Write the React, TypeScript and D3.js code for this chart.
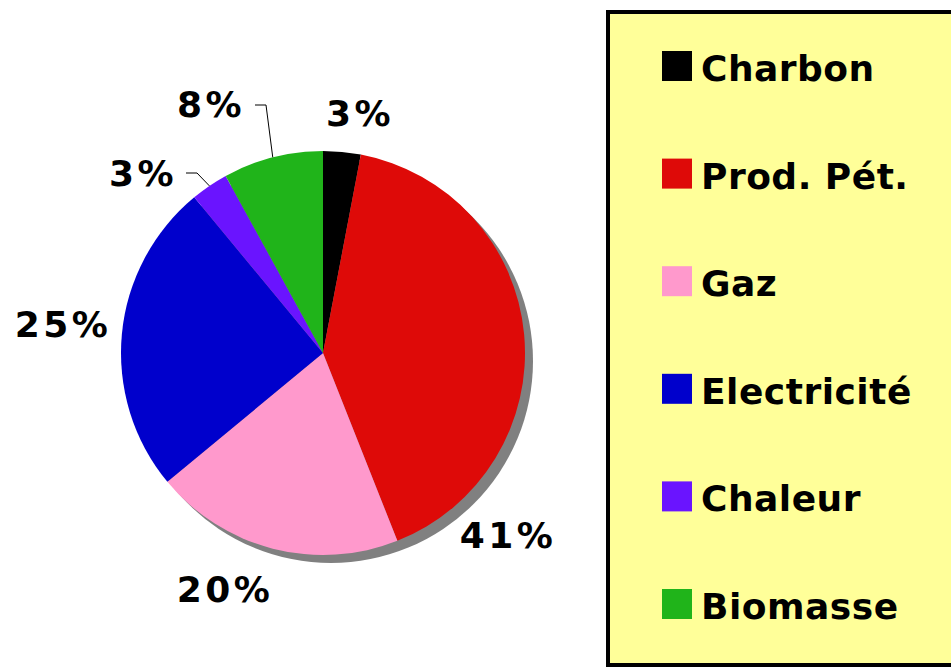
import React from "react";
import * as d3 from "d3";

const categories = ["Charbon", "Prod. Pét.", "Gaz", "Electricité", "Chaleur", "Biomasse"];
const values = [3, 41, 20, 25, 3, 8];
const colors = ["#000000", "#DE0A08", "#FF99CC", "#0000CC", "#6A14FF", "#20B41A"];
const labels = ["3%", "41%", "20%", "25%", "3%", "8%"];

const W = 951, H = 667;
const cx = 323, cy = 353, R = 202;

// label anchor positions (text center x, baseline y) relative to pie center
const labelPos: [number, number][] = [
  [360 - cx, 126 - cy],
  [508 - cx, 548 - cy],
  [225 - cx, 602 - cy],
  [63 - cx, 337 - cy],
  [143 - cx, 186 - cy],
  [211 - cx, 117 - cy],
];

export default function App() {
  const pie = d3.pie<number>().sort(null).value((d) => d).startAngle(0).endAngle(2 * Math.PI);
  const arcs = pie(values);
  const arc = d3.arc<d3.PieArcDatum<number>>().innerRadius(0).outerRadius(R);
  const font = "'DejaVu Sans', Verdana, sans-serif";
  const rowY = d3.scaleLinear().domain([0, categories.length - 1]).range([81, 619]);

  // leader lines for small slices
  const leader = (i: number, lx: number, ly: number) => {
    const a = arcs[i];
    const mid = (a.startAngle + a.endAngle) / 2;
    const px = Math.sin(mid) * R;
    const py = -Math.cos(mid) * R;
    return `M${lx},${ly} H${lx + 11} L${px},${py}`;
  };

  return (
    <div style={{ position: "absolute", left: 0, top: 0 }}>
      <svg width={W} height={H} style={{ display: "block" }}>
        <rect x={0} y={0} width={W} height={H} fill="#fff" />
        <g transform={`translate(${cx},${cy})`}>
          <circle cx={8} cy={8} r={R} fill="#808080" />
          {arcs.map((a, i) => (
            <path key={i} d={arc(a) || ""} fill={colors[i]} />
          ))}
          <path d={leader(5, 255 - cx, 105 - cy)} fill="none" stroke="#000" strokeWidth={1} />
          <path d={leader(4, 186 - cx, 173 - cy)} fill="none" stroke="#000" strokeWidth={1} />
          {labels.map((l, i) => (
            <text
              key={i}
              x={labelPos[i][0]}
              y={labelPos[i][1]}
              textAnchor="middle"
              fontFamily={font}
              fontWeight="bold"
              fontSize={36}
              letterSpacing={3.5}
              fill="#000"
            >
              {l}
            </text>
          ))}
        </g>
        <rect x={608} y={12} width={360} height={653} fill="#FFFF99" stroke="#000" strokeWidth={4} />
        {categories.map((c, i) => (
          <g key={c}>
            <rect x={662} y={rowY(i) - 30} width={30} height={30} fill={colors[i]} />
            <text x={701} y={rowY(i)} fontFamily={font} fontWeight="bold" fontSize={36} letterSpacing={0.5} fill="#000">
              {c}
            </text>
          </g>
        ))}
      </svg>
    </div>
  );
}
